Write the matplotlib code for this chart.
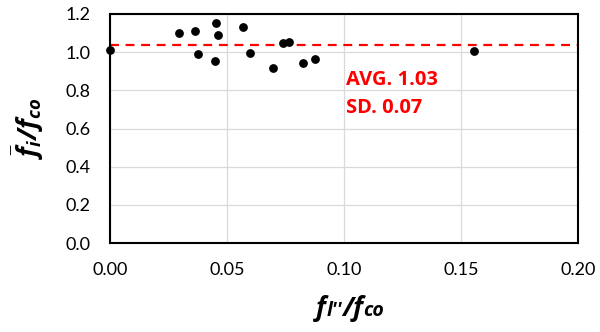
import matplotlib
matplotlib.use("Agg")
import matplotlib.pyplot as plt
from matplotlib.offsetbox import TextArea, HPacker, AnnotationBbox

plt.rcParams['font.family'] = ['Lato', 'DejaVu Sans']
plt.rcParams['mathtext.fontset'] = 'custom'
plt.rcParams['mathtext.it'] = 'Open Sans:bold:italic'
plt.rcParams['mathtext.rm'] = 'Open Sans:bold:italic'
plt.rcParams['mathtext.bf'] = 'Open Sans:bold:italic'

x_vals = [0.0, 0.0296, 0.0363, 0.0454, 0.0463, 0.0377, 0.0450, 0.0567, 0.0597,
          0.0695, 0.0739, 0.0763, 0.0823, 0.0876, 0.1554]
y_vals = [1.011, 1.102, 1.109, 1.155, 1.090, 0.992, 0.952, 1.130, 0.994,
          0.919, 1.047, 1.052, 0.945, 0.963, 1.008]
avg_value = 1.035
avg_text = "AVG. 1.03"
sd_text = "SD. 0.07"
x_ticks = [0.00, 0.05, 0.10, 0.15, 0.20]
y_ticks = [0.0, 0.2, 0.4, 0.6, 0.8, 1.0, 1.2]

fig = plt.figure(figsize=(6, 3.32), dpi=100)
ax = fig.add_axes([110/600, 1 - 243/332, 468/600, 229/332])

ax.set_xlim(0, 0.20)
ax.set_ylim(0, 1.2)
ax.set_xticks(x_ticks)
ax.set_yticks(y_ticks)
ax.set_xticklabels([f"{v:.2f}" for v in x_ticks])
ax.set_yticklabels([f"{v:.1f}" for v in y_ticks])
ax.grid(True, color='#d9d9d9', linewidth=0.9)
ax.set_axisbelow(True)
ax.tick_params(length=0, labelsize=13, colors='black')
ax.tick_params(axis='y', pad=14)
ax.tick_params(axis='x', pad=14)
for s in ax.spines.values():
    s.set_linewidth(1.5)
    s.set_color('black')

ax.axhline(avg_value, color='#ff0000', linewidth=1.6, dashes=(4, 3), zorder=2)
ax.scatter(x_vals, y_vals, s=28, color='black', zorder=3, clip_on=False)

ax.text(0.1010, 0.855, avg_text, color='#ff0000', fontsize=14.5, fontweight='bold',
        family=['Open Sans', 'DejaVu Sans'], va='center', ha='left')
ax.text(0.1010, 0.705, sd_text, color='#ff0000', fontsize=14.5, fontweight='bold',
        family=['Open Sans', 'DejaVu Sans'], va='center', ha='left')

fig.text(28/600, 1 - 128/332, r'$\bar{f}_{i}/f_{co}$', rotation=90, fontsize=19,
         ha='center', va='center')

big = dict(family=['Open Sans', 'DejaVu Sans'], fontweight='bold', fontstyle='italic',
           fontsize=19, color='black')
small = dict(big, fontsize=14)
parts = [TextArea("f", textprops=big), TextArea("l''", textprops=small),
         TextArea("/f", textprops=big), TextArea("co", textprops=small)]
pack = HPacker(children=parts, align='baseline', pad=0, sep=0)
ab = AnnotationBbox(pack, (350/600, 1 - 308/332), xycoords='figure fraction',
                    frameon=False, box_alignment=(0.5, 0.5))
fig.add_artist(ab)

fig.savefig('out.png', dpi=100)
